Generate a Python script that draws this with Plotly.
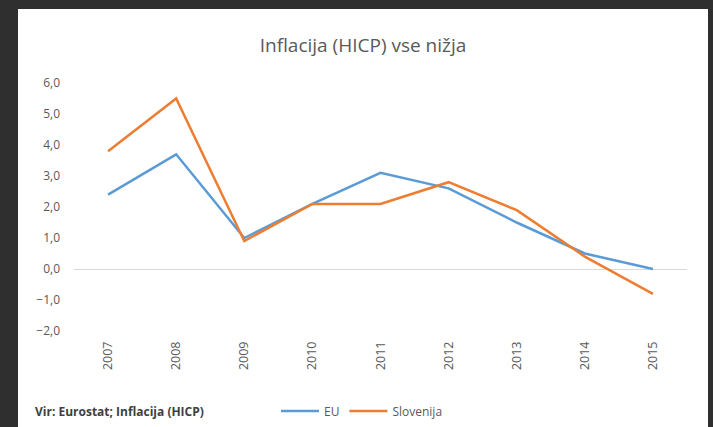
import plotly.graph_objects as go

years = ["2007", "2008", "2009", "2010", "2011", "2012", "2013", "2014", "2015"]
eu = [2.4, 3.7, 1.0, 2.1, 3.1, 2.6, 1.5, 0.5, 0.0]
slovenija = [3.8, 5.5, 0.9, 2.1, 2.1, 2.8, 1.9, 0.4, -0.8]
y_ticks = [-2, -1, 0, 1, 2, 3, 4, 5, 6]

W, H = 713, 427
L, R, T, B = 74, 26, 83, 96
pw, ph = W - L - R, H - T - B

def px_x(x):
    return (x - L) / pw

def px_y(y):
    return (H - B - y) / ph

fig = go.Figure()
fig.add_trace(go.Scatter(x=years, y=eu, mode="lines", name="EU",
                         line=dict(color="#5B9BD5", width=2.5)))
fig.add_trace(go.Scatter(x=years, y=slovenija, mode="lines", name="Slovenija",
                         line=dict(color="#ED7D31", width=2.5)))

fig.update_layout(
    width=W, height=H,
    margin=dict(l=L, r=R, t=T, b=B, autoexpand=False),
    paper_bgcolor="#2f2f2f",
    plot_bgcolor="white",
    separators=",.",
    font=dict(family="Open Sans", color="#595959"),
    title=dict(text="Inflacija (HICP) vse nižja", x=363 / W, xanchor="center",
               xref="container", y=1 - 45 / H, yanchor="middle",
               font=dict(size=19, color="#595959", family="Open Sans")),
    showlegend=True,
    legend=dict(orientation="h", x=px_x(362), xanchor="center", y=px_y(411),
                yanchor="middle", font=dict(size=12, color="#595959"),
                bgcolor="rgba(0,0,0,0)", itemwidth=38),
    shapes=[dict(type="rect", xref="paper", yref="paper", layer="below",
                 x0=px_x(18), x1=px_x(708), y0=px_y(430), y1=px_y(9),
                 fillcolor="white", line=dict(width=0))],
    annotations=[dict(text="<b>Vir: Eurostat; Inflacija (HICP)</b>", xref="paper", yref="paper",
                      x=px_x(33), y=px_y(411), xanchor="left", yanchor="middle",
                      showarrow=False, font=dict(size=12, color="#404040"))],
)
fig.update_xaxes(type="category", showgrid=False, showline=False, zeroline=False,
                 tickangle=-90, tickfont=dict(size=12.5, color="#595959"), automargin=False,
                 ticks="", ticklabelstandoff=7, range=[-0.5, 8.5])
fig.update_yaxes(range=[-2, 6], tickvals=y_ticks, tickformat=".1f", showgrid=False,
                 zeroline=True, zerolinecolor="#d9d9d9", zerolinewidth=1, automargin=False,
                 showline=False, ticks="", ticklabelstandoff=13,
                 tickfont=dict(size=12, color="#595959"))

fig.write_html("out.html", config={"displayModeBar": False},
               post_script="document.body.style.margin='0';document.body.style.padding='0';")
